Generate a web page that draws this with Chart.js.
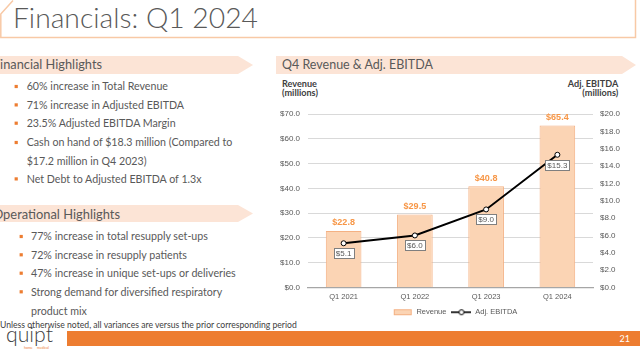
<!DOCTYPE html>
<html><head><meta charset="utf-8">
<script src="https://cdn.jsdelivr.net/npm/chart.js@4.4.1/dist/chart.umd.min.js"></script>
<style>
html,body{margin:0;padding:0;background:#fff;}
#slide{position:relative;width:640px;height:350px;overflow:hidden;background:#fff;}
#deco{position:absolute;left:0;top:0;}
#chartBox{position:absolute;left:270px;top:100px;width:370px;height:226px;}
svg text{font-family:Lato,"Open Sans",sans-serif;}
</style></head><body>
<div id="slide">
<svg id="deco" width="640" height="350" xmlns="http://www.w3.org/2000/svg">
  <polyline points="13,0.5 0.8,14 0.8,37.5 635.5,37.5 635.5,0" fill="none" stroke="#F8C9A6" stroke-width="1.5"/>
  <polygon points="0,56 238,56 253,65 238,74 0,74" fill="#FCE4D6"/>
  <polygon points="276,56 622,56 636,65 622,74 276,74" fill="#FCE4D6"/>
  <polygon points="0,205 238,205 253,213.5 238,222 0,222" fill="#FCE4D6"/>
  <rect x="67" y="331" width="573" height="15" fill="#ED7D31"/>
  <g id="texts"></g>
</svg>
<div id="chartBox"><canvas id="c" width="370" height="226"></canvas></div>
</div>
<script>
// ---- data ----
const categories = ['Q1 2021', 'Q1 2022', 'Q1 2023', 'Q1 2024'];
const revenue = [22.8, 29.5, 40.8, 65.4];
const adjEbitda = [5.1, 6.0, 9.0, 15.3];
const revenueAxis = [0, 70, 10];   // min, max, step
const ebitdaAxis = [0, 20, 2];

const financialBullets = [
  ['60% increase in Total Revenue', true],
  ['71% increase in Adjusted EBITDA', true],
  ['23.5% Adjusted EBITDA Margin', true],
  ['Cash on hand of $18.3 million (Compared to', true],
  ['$17.2 million in Q4 2023)', false],
  ['Net Debt to Adjusted EBITDA of 1.3x', true]
];
const operationalBullets = [
  ['77% increase in total resupply set-ups', true],
  ['72% increase in resupply patients', true],
  ['47% increase in unique set-ups or deliveries', true],
  ['Strong demand for diversified respiratory', true],
  ['product mix', false]
];

// ---- slide text ----
const NS = 'http://www.w3.org/2000/svg';
const g = document.getElementById('texts');
function T(str, x, y, opts) {
  opts = opts || {};
  const t = document.createElementNS(NS, 'text');
  t.textContent = str;
  t.setAttribute('x', x); t.setAttribute('y', y);
  t.setAttribute('fill', opts.fill || '#595959');
  if (opts.anchor) t.setAttribute('text-anchor', opts.anchor);
  if (opts.weight) t.setAttribute('font-weight', opts.weight);
  t.setAttribute('font-size', opts.size || 10);
  g.appendChild(t);
  return t;
}
function fit(el, w) {
  el.setAttribute('font-size', 100);
  const L = el.getComputedTextLength();
  const s = 100 * w / L;
  el.setAttribute('font-size', s);
  return s;
}
function sq(x, y) {
  const r = document.createElementNS(NS, 'rect');
  r.setAttribute('x', x); r.setAttribute('y', y);
  r.setAttribute('width', 3.2); r.setAttribute('height', 3.2);
  r.setAttribute('fill', '#ED7D31');
  g.appendChild(r);
}

const title = T('Financials: Q1 2024', 13, 28, {fill: '#595959', weight: 300});
fit(title, 245);

const hChart = T('Q4 Revenue & Adj. EBITDA', 282, 69.3);
fit(hChart, 151);
const probe1 = T('inancial Highlights', 0, -50);
const s1 = fit(probe1, 102);
T('Financial Highlights', 102, 69.3, {anchor: 'end', size: s1});
const probe2 = T('perational Highlights', 0, -50);
const s2 = fit(probe2, 117);
T('Operational Highlights', 120, 219, {anchor: 'end', size: s2});

const finY = [90.3, 108.7, 127, 146.3, 164.7, 182.7];
const opY = [240.3, 258.6, 277, 295.6, 314.6];
const ref = T(financialBullets[0][0], 26.7, finY[0]);
const bs = fit(ref, 141.6);
financialBullets.forEach((b, i) => {
  if (i > 0) T(b[0], 26.7, finY[i], {size: bs});
  if (b[1]) sq(14.6, finY[i] - 5.4);
});
operationalBullets.forEach((b, i) => {
  T(b[0], 31, opY[i], {size: bs});
  if (b[1]) sq(19.6, opY[i] - 5.4);
});

const foot = T('Unless otherwise noted, all variances are versus the prior corresponding period', 0, 328, {fill: '#404040'});
fit(foot, 297);

const at1 = T('Revenue', 282, 86.7, {weight: 'bold', fill: '#404040'});
const as = fit(at1, 35);
T('(millions)', 282, 96, {weight: 'bold', fill: '#404040', size: as});
T('Adj. EBITDA', 618.3, 86.7, {weight: 'bold', fill: '#404040', size: as, anchor: 'end'});
T('(millions)', 618.3, 96, {weight: 'bold', fill: '#404040', size: as, anchor: 'end'});

const logo = T('quipt', 6, 342, {fill: '#3F3F3F', weight: 300});
fit(logo, 47);
T('home', 24, 348.5, {fill: '#ED7D31', size: 3.5});
T('medical', 37, 348.5, {fill: '#ED7D31', size: 3.5});
T('21', 630, 342, {fill: '#FFFFFF', size: 9, anchor: 'end'});

// ---- chart ----
function legendImg(kind) {
  const c = document.createElement('canvas');
  c.width = 20; c.height = 8;
  const x = c.getContext('2d');
  if (kind === 'bar') {
    x.fillStyle = '#FBD4B4'; x.fillRect(1.5, 1.5, 17, 5);
    x.strokeStyle = '#F4B183'; x.lineWidth = 1; x.strokeRect(1.5, 1.5, 17, 5);
  } else {
    x.strokeStyle = '#000'; x.lineWidth = 1.6;
    x.beginPath(); x.moveTo(0, 4); x.lineTo(20, 4); x.stroke();
    x.beginPath(); x.arc(10, 4, 2.5, 0, Math.PI * 2);
    x.fillStyle = '#fff'; x.fill(); x.lineWidth = 1; x.stroke();
  }
  return c;
}
const imgBar = legendImg('bar');
const imgLine = legendImg('line');

const labelPlugin = {
  id: 'vlabels',
  afterDatasetsDraw(chart) {
    const ctx = chart.ctx;
    ctx.save();
    ctx.textAlign = 'center';
    ctx.textBaseline = 'middle';
    ctx.font = 'bold 9px "Liberation Sans", Arial, sans-serif';
    ctx.fillStyle = '#F79646';
    chart.getDatasetMeta(0).data.forEach((el, i) => {
      ctx.fillText('$' + revenue[i].toFixed(1), el.x, el.y - 8);
    });
    ctx.font = '8px "Liberation Sans", Arial, sans-serif';
    chart.getDatasetMeta(1).data.forEach((el, i) => {
      const t = '$' + adjEbitda[i].toFixed(1);
      const w = Math.round(ctx.measureText(t).width + 4);
      const h = 10;
      const bx = Math.round(el.x - w / 2) + 0.5, by = Math.round(el.y + 10 - h / 2) + 0.5;
      ctx.fillStyle = '#fff';
      ctx.fillRect(bx, by, w, h);
      ctx.strokeStyle = '#7F7F7F'; ctx.lineWidth = 1;
      ctx.strokeRect(bx, by, w, h);
      ctx.fillStyle = '#595959';
      ctx.fillText(t, el.x, by + h / 2 + 0.5);
    });
    ctx.restore();
  }
};

const tickFont = {family: '"Liberation Sans", Arial, sans-serif', size: 8};
new Chart(document.getElementById('c'), {
  data: {
    labels: categories,
    datasets: [
      {type: 'bar', label: 'Revenue', data: revenue, yAxisID: 'y',
       backgroundColor: '#FBD4B4', borderColor: '#F4B183', borderWidth: 1,
       barPercentage: 0.5, categoryPercentage: 1, order: 2},
      {type: 'line', label: 'Adj. EBITDA', data: adjEbitda, yAxisID: 'y1',
       borderColor: '#000', borderWidth: 2, tension: 0,
       pointRadius: 2.5, pointBackgroundColor: '#fff', pointBorderColor: '#000', pointBorderWidth: 1,
       order: 1}
    ]
  },
  options: {
    responsive: false,
    animation: false,
    layout: {padding: {top: 14, left: 0, right: 0, bottom: 0}},
    plugins: {
      tooltip: {enabled: false},
      legend: {
        position: 'bottom',
        labels: {
          usePointStyle: true, pointStyleWidth: 20, padding: 5,
          color: '#595959',
          font: {family: '"Liberation Sans", Arial, sans-serif', size: 7.5},
          generateLabels: () => [
            {text: 'Revenue', pointStyle: imgBar, fillStyle: '#FBD4B4', strokeStyle: '#F4B183', lineWidth: 0, hidden: false, datasetIndex: 0, fontColor: '#595959'},
            {text: 'Adj. EBITDA', pointStyle: imgLine, fillStyle: '#fff', strokeStyle: '#000', lineWidth: 0, hidden: false, datasetIndex: 1, fontColor: '#595959'}
          ]
        }
      }
    },
    scales: {
      x: {
        grid: {display: false, drawTicks: false},
        border: {color: '#A6A6A6', width: 1.2},
        ticks: {color: '#595959', font: {family: tickFont.family, size: 7.5}, padding: 5},
        afterFit: s => { s.height = 16; }
      },
      y: {
        position: 'left',
        min: revenueAxis[0], max: revenueAxis[1],
        ticks: {stepSize: revenueAxis[2], color: '#595959', font: tickFont, padding: 8,
                callback: v => '$' + v.toFixed(1)},
        grid: {color: '#D9D9D9', drawTicks: false},
        border: {display: false},
        afterFit: s => { s.width = 38; }
      },
      y1: {
        position: 'right',
        min: ebitdaAxis[0], max: ebitdaAxis[1],
        ticks: {stepSize: ebitdaAxis[2], autoSkip: false, color: '#595959', font: tickFont, padding: 7,
                callback: v => '$' + v.toFixed(1)},
        grid: {drawOnChartArea: false, drawTicks: false},
        border: {display: false},
        afterFit: s => { s.width = 47; }
      }
    }
  },
  plugins: [labelPlugin]
});
</script>
</body></html>
